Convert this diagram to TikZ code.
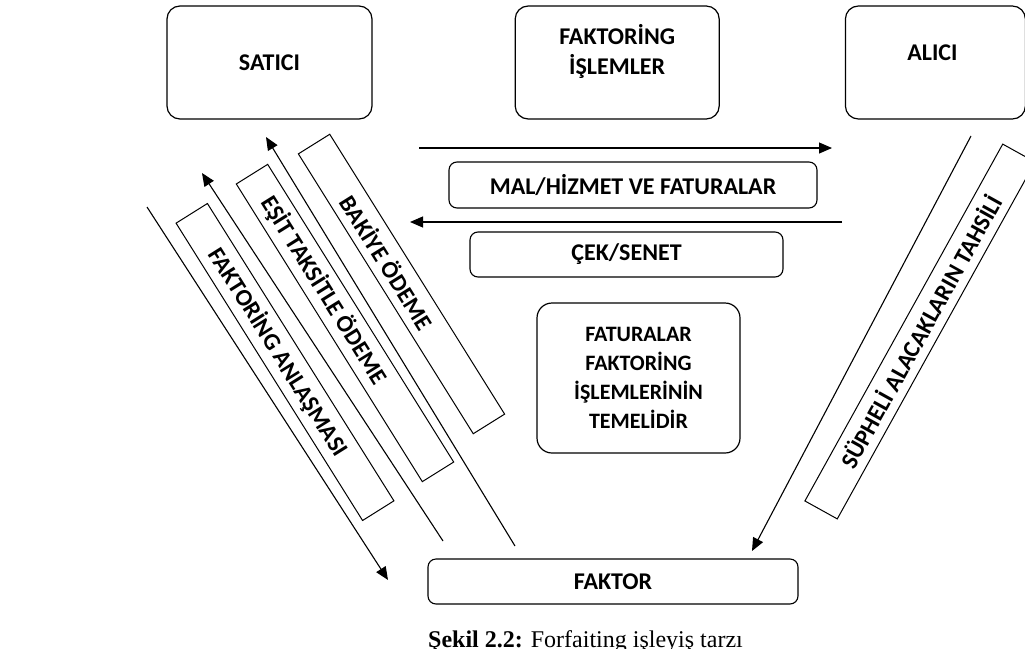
\documentclass[tikz,border=0pt]{standalone}
\usepackage{fontspec}
\setmainfont{Carlito}
\newfontfamily\capfont{Liberation Serif}
\usetikzlibrary{arrows.meta,positioning}
\newcommand{\boxsize}{\fontsize{24}{28}\selectfont}

\begin{document}
\begin{tikzpicture}[
    x=1pt, y=-1pt,
    party/.style={draw,rounded corners=13pt,line width=1.2pt,minimum height=113pt},
    flow/.style={draw,rounded corners=8pt,line width=1.1pt,minimum height=46pt,font=\bfseries\boxsize},
    band/.style={draw,line width=1pt,minimum height=37pt,inner sep=0pt,font=\bfseries\boxsize},
    title/.style={font=\bfseries\boxsize,align=center},
    >={Triangle[length=13pt,width=11pt]}
  ]
  \useasboundingbox (0,0) rectangle (1025,648);

  %% Parties
  \node[party,minimum width=205pt] (satici) at (269.5,62.5) {};
  \node[party,minimum width=204pt,right=142pt of satici] (islem) {};
  \node[party,minimum width=180pt,right=125pt of islem] (alici) {};
  \node[title] (satici-t) at (satici) {SATICI};
  \node[title] (islem-t) at ([yshift=11.5pt]islem.center) {FAKTORİNG\\[2pt]İŞLEMLER};
  \node[title] (alici-t) at ([yshift=10pt,xshift=-3pt]alici.center) {ALICI};

  %% Goods and payment
  \node[flow,minimum width=368pt] (mal) at (633,185) {MAL/HİZMET VE FATURALAR};
  \node[flow,minimum width=313pt,minimum height=45pt] (cek) at (626.5,254.5) {ÇEK/SENET};
  \coordinate (mal-a) at (419,148);
  \coordinate (mal-b) at (832,148);
  \coordinate (cek-a) at (842,222);
  \coordinate (cek-b) at (410,222);
  \draw[->,line width=1.1pt] (mal-a) -- (mal-b);
  \draw[->,line width=1.1pt] (cek-a) -- (cek-b);

  %% Invoices
  \node[draw,rounded corners=15pt,line width=1.2pt,minimum width=203pt,minimum height=150pt,
        font=\bfseries\fontsize{22}{29}\selectfont,align=center] (fatura) at (638.5,378)
        {FATURALAR\\FAKTORİNG\\İŞLEMLERİNİN\\TEMELİDİR};

  %% Factor
  \node[flow,minimum width=370pt,minimum height=45pt] (faktor) at (613,581.5) {FAKTOR};

  %% Diagonal bands
  \node[band,minimum width=351pt,rotate=-57.9] (anlasma) at (285,362) {FAKTORİNG ANLAŞMASI\kern24pt};
  \node[band,minimum width=351pt,rotate=-58] (taksit) at (345,323) {EŞİT TAKSİTLE ÖDEME\kern78pt};
  \node[band,minimum width=330pt,rotate=-58] (bakiye) at (401.5,284) {BAKİYE ÖDEME\kern52pt};
  \node[band,minimum width=408pt,rotate=61] (tahsil) at (920,331.5) {SÜPHELİ ALACAKLARIN TAHSİLİ};

  %% Diagonal flows
  \coordinate (anl-a) at (147,207);
  \coordinate (anl-b) at (388,580);
  \coordinate (tak-a) at (443,541);
  \coordinate (tak-b) at (202,173);
  \coordinate (bak-a) at (515,546);
  \coordinate (bak-b) at (266,137);
  \coordinate (tah-a) at (971,136);
  \coordinate (tah-b) at (752,551);
  \foreach \src/\dst in {anl-a/anl-b,tak-a/tak-b,bak-a/bak-b,tah-a/tah-b}{
    \draw[->,line width=1.1pt] (\src) -- (\dst);
  }

  %% Caption
  \node[anchor=base west,inner sep=0pt,font=\capfont\fontsize{24}{28}\selectfont] (caption) at (428,647)
    {\textbf{Şekil 2.2:} Forfaiting işleyiş tarzı};
\end{tikzpicture}
\end{document}
